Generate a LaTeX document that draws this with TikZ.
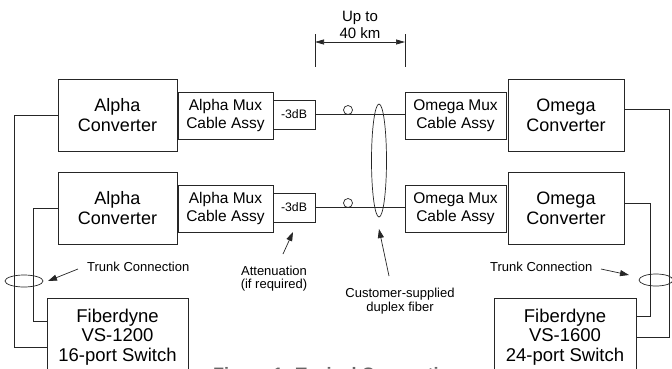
\documentclass[tikz,border=0pt]{standalone}
\usepackage{fontspec}
\setmainfont{Liberation Sans}
\usetikzlibrary{arrows.meta}
\begin{document}
\begin{tikzpicture}[x=1pt,y=-1pt,
  box/.style={draw=black!85, line width=0.75pt, inner sep=0pt, align=center},
  conv/.style={box, minimum width=119pt, minimum height=72pt, font=\fontsize{18}{20}\selectfont},
  mux/.style={box, minimum width=95pt, minimum height=47pt, font=\fontsize{15.5}{18}\selectfont},
  att/.style={box, minimum width=42pt, minimum height=29pt, font=\fontsize{12.3}{14}\selectfont},
  sw/.style={box, minimum height=78pt, font=\fontsize{18.5}{19.5}\selectfont},
  lbl/.style={inner sep=0pt, align=center, font=\fontsize{13}{14}\selectfont},
  wire/.style={draw=black!85, line width=0.7pt},
  pointer/.style={wire, -{Triangle[length=9pt,width=6pt]}},
  dimarrow/.style={wire, {Triangle[length=9pt,width=5pt]}-{Triangle[length=9pt,width=5pt]}},
  ring/.style={circle, draw=black!85, line width=0.7pt, minimum size=9pt, inner sep=0pt}
]
\useasboundingbox (0,0) rectangle (672,368);
\fill[white] (0,0) rectangle (672,368);

% boxes
\node[conv] (ac1) at (117.5,115) {Alpha\\Converter};
\node[conv] (ac2) at (117.5,208) {Alpha\\Converter};
\node[mux] (am1) at (225.5,115.5) {Alpha Mux\\Cable Assy};
\node[mux] (am2) at (225.5,208.5) {Alpha Mux\\Cable Assy};
\node[att] (a1) at (294,114.5) {-3dB};
\node[att] (a2) at (294,207.5) {-3dB};
\node[mux, minimum width=101pt] (om1) at (455.5,115.5) {Omega Mux\\Cable Assy};
\node[mux, minimum width=101pt] (om2) at (455.5,208.5) {Omega Mux\\Cable Assy};
\node[conv, minimum width=116pt] (oc1) at (566,115) {Omega\\Converter};
\node[conv, minimum width=116pt] (oc2) at (566,208) {Omega\\Converter};
\node[sw, minimum width=141pt] (sw1) at (117.5,337) {Fiberdyne\\VS-1200\\16-port Switch};
\node[sw, minimum width=142pt] (sw2) at (565,337) {Fiberdyne\\VS-1600\\24-port Switch};

% fiber runs
\draw[wire] (a1.east) -- (a1.east -| om1.west);
\draw[wire] (a2.east) -- (a2.east -| om2.west);
\node[ring] (r1) at (348,110) {};
\node[ring] (r2) at (348,203) {};
\draw[wire] (379,160.5) ellipse[x radius=7.5pt, y radius=56.5pt];

% distance dimension
\coordinate (dl1) at (315,34); \coordinate (dl2) at (315,67);
\coordinate (dr1) at (405,34); \coordinate (dr2) at (405,67);
\coordinate (dal) at (315,42); \coordinate (dar) at (405,42);
\draw[wire] (dl1) -- (dl2);
\draw[wire] (dr1) -- (dr2);
\draw[dimarrow] (dal) -- (dar);
\node[inner sep=0pt, align=center, font=\fontsize{15}{17}\selectfont] (dim) at (360,25) {Up to\\40 km};

% trunk wiring left
\draw[wire] (ac1.west) -- (14,115) |- (sw1.west |- 0,347);
\draw[wire] (ac2.west) -- (33,208) |- (sw1.west |- 0,321);
% trunk wiring right
\draw[wire] (oc1.east |- 0,109) -- (669,109) |- (sw2.east |- 0,337);
\draw[wire] (oc2.east |- 0,203) -- (650,203) |- (sw2.east |- 0,316);
\draw[wire] (24,281) ellipse[x radius=19pt, y radius=6pt];
\draw[wire] (656,280) ellipse[x radius=17pt, y radius=6pt];

% labels and pointers
\node[lbl, anchor=west] (tc1) at (87,267) {Trunk Connection};
\coordinate (p1s) at (78,269); \coordinate (p1e) at (48,281);
\draw[pointer] (p1s) -- (p1e);
\node[lbl, anchor=west] (tc2) at (490,267) {Trunk Connection};
\coordinate (p2s) at (601,269); \coordinate (p2e) at (629,275);
\draw[pointer] (p2s) -- (p2e);
\node[lbl, font=\fontsize{13}{13.5}\selectfont] (attn) at (274,278.5) {Attenuation\\(if required)};
\coordinate (p3s) at (283,254); \coordinate (p3e) at (293,232);
\draw[pointer] (p3s) -- (p3e);
\node[lbl] (cust) at (400,301) {Customer-supplied\\duplex fiber};
\coordinate (p4s) at (389,276); \coordinate (p4e) at (379,229);
\draw[pointer] (p4s) -- (p4e);

% caption (cut off at the bottom edge)
\node[anchor=base west, inner sep=0pt, text=black!60, font=\fontsize{18}{20}\selectfont\bfseries] (cap) at (213,380.5) {Figure 1: Typical Connection};
\end{tikzpicture}
\end{document}
